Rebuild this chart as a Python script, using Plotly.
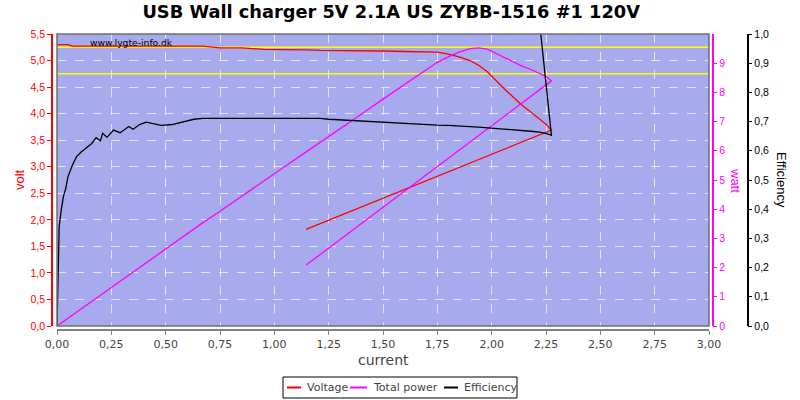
import plotly.graph_objects as go

# ---- data ----
current = [0.00, 0.01, 0.02, 0.03, 0.04, 0.05, 0.07, 0.09, 0.11, 0.14, 0.16, 0.18,
           0.20, 0.21, 0.23, 0.26, 0.29, 0.31, 0.33, 0.35, 0.38, 0.41, 0.45, 0.48,
           0.53, 0.58, 0.63, 0.67, 0.75, 0.85, 0.95, 1.05, 1.15, 1.21, 1.25, 1.32,
           1.40, 1.50, 1.60, 1.70, 1.75, 1.80, 1.85, 1.90, 1.94, 1.98, 2.02, 2.06,
           2.10, 2.14, 2.18, 2.22, 2.25, 2.275, 1.146]

voltage = [5.30, 5.30, 5.30, 5.30, 5.30, 5.30, 5.27, 5.27, 5.27, 5.27, 5.27, 5.27,
           5.27, 5.27, 5.27, 5.27, 5.27, 5.27, 5.27, 5.27, 5.27, 5.27, 5.27, 5.27,
           5.27, 5.27, 5.27, 5.27, 5.24, 5.24, 5.21, 5.21, 5.20, 5.19, 5.19, 5.19,
           5.18, 5.18, 5.17, 5.16, 5.16, 5.12, 5.07, 5.00, 4.91, 4.79, 4.62, 4.46,
           4.31, 4.16, 4.03, 3.90, 3.80, 3.69, 1.82]

power = [0.000, 0.053, 0.106, 0.159, 0.212, 0.265, 0.369, 0.474, 0.580, 0.738, 0.843, 0.949,
         1.054, 1.107, 1.212, 1.370, 1.528, 1.634, 1.739, 1.845, 2.003, 2.161, 2.372, 2.530,
         2.793, 3.057, 3.320, 3.531, 3.930, 4.454, 4.950, 5.471, 5.980, 6.280, 6.488, 6.851,
         7.252, 7.770, 8.272, 8.772, 9.030, 9.216, 9.380, 9.500, 9.525, 9.484, 9.332, 9.188,
         9.051, 8.902, 8.785, 8.658, 8.550, 8.395, 2.086]

efficiency = [0.000, 0.340, 0.400, 0.445, 0.470, 0.510, 0.550, 0.580, 0.595, 0.612, 0.625, 0.645,
              0.634, 0.660, 0.646, 0.671, 0.662, 0.672, 0.683, 0.674, 0.690, 0.698, 0.693, 0.687,
              0.690, 0.700, 0.708, 0.711, 0.711, 0.711, 0.711, 0.711, 0.711, 0.711, 0.708, 0.705,
              0.701, 0.698, 0.693, 0.690, 0.688, 0.687, 0.686, 0.683, 0.681, 0.679, 0.677, 0.674,
              0.672, 0.669, 0.667, 0.664, 0.660, 0.653, 8.650]

limit_lines = [5.25, 4.75]
x_ticks = [0, 0.25, 0.5, 0.75, 1.0, 1.25, 1.5, 1.75, 2.0, 2.25, 2.5, 2.75, 3.0]
watt_ticks = [0, 1, 2, 3, 4, 5, 6, 7, 8, 9]

series_names = ["Voltage", "Total power", "Efficiency"]
series_colors = ["#FF0000", "#FF00FF", "#000000"]

title = "USB Wall charger 5V 2.1A US ZYBB-1516 #1 120V"

# ---- geometry ----
W, H = 800, 400
ML, MR, MT, MB = 52, 10, 34, 70
PW = W - ML - MR
PH = H - MT - MB


def px(x):
    return (x - ML) / PW


def py(y):
    return (H - MB - y) / PH


FONT = "DejaVu Sans"
FONT2 = "Liberation Sans"
BG = "#A8AAEE"
GRID = "rgba(255,255,255,0.65)"

fig = go.Figure()
ys = [voltage, power, efficiency]
axes = ["y", "y2", "y3"]
for name, col, yv, ax in zip(series_names, series_colors, ys, axes):
    fig.add_trace(go.Scatter(x=current, y=yv, name=name, mode="lines",
                             line=dict(color=col, width=1.3), yaxis=ax,
                             showlegend=False))

for v in limit_lines:
    fig.add_shape(type="line", xref="x domain", yref="y", x0=0, x1=1, y0=v, y1=v,
                  line=dict(color="#FFFF00", width=1.6), layer="below")

fig.add_shape(type="rect", xref="x domain", yref="y domain", x0=0, x1=1, y0=0, y1=1,
              line=dict(color="#707070", width=1.5), layer="above")

# ---- custom legend box (matches the compact reference legend) ----
fig.add_shape(type="rect", xref="paper", yref="paper",
              x0=px(283), x1=px(517), y0=py(398), y1=py(377),
              line=dict(color="#000000", width=1), fillcolor="white", layer="above")
leg_line_x = [(287, 301), (350, 367), (444, 458)]
leg_text_x = [305, 371, 462]
for name, col, (a, b), tx in zip(series_names, series_colors, leg_line_x, leg_text_x):
    fig.add_shape(type="line", xref="paper", yref="paper",
                  x0=px(a), x1=px(b), y0=py(387.5), y1=py(387.5),
                  line=dict(color=col, width=2), layer="above")
    fig.add_annotation(text=name, x=px(tx), y=py(387.5), xref="paper", yref="paper",
                       xanchor="left", yanchor="middle", showarrow=False,
                       font=dict(family=FONT, size=11, color="#444444"))

fig.update_layout(
    width=W, height=H,
    margin=dict(l=ML, r=MR, t=MT, b=MB, autoexpand=False),
    paper_bgcolor="white",
    plot_bgcolor=BG,
    separators=",.",
    font=dict(family=FONT, size=11, color="#444444"),
    title=dict(text="<b>" + title + "</b>", x=0.489, xref="container", xanchor="center",
               y=1 - 12 / H, yref="container", yanchor="middle",
               font=dict(family=FONT, size=17.8, color="#000000")),
    showlegend=False,
    xaxis=dict(range=[0, 3], domain=[px(57), px(709)], anchor="free", position=0,
               tickvals=x_ticks, tickformat=".2f", automargin=False,
               showgrid=True, gridcolor=GRID, griddash="dash", gridwidth=1,
               showline=True, linecolor="#808080", linewidth=1.5,
               ticks="outside", tickcolor="#808080", ticklen=4,
               tickfont=dict(family=FONT, size=11, color="#444444"),
               zeroline=False),
    yaxis=dict(range=[0, 5.5], domain=[(H - MB - 326) / PH, 1], anchor="free", position=0,
               dtick=0.5, tick0=0, tickformat=".1f", automargin=False,
               showgrid=True, gridcolor=GRID, griddash="dash", gridwidth=1,
               showline=True, linecolor="#FF0000", linewidth=1.5,
               ticks="outside", tickcolor="#FF0000", ticklen=4,
               tickfont=dict(family=FONT2, size=10.5, color="#FF0000"),
               zeroline=False),
    yaxis2=dict(range=[0, 10], overlaying="y", side="right", anchor="free", position=px(712.5),
                tickvals=watt_ticks, showgrid=False, automargin=False,
                showline=True, linecolor="#FF00FF", linewidth=1.5,
                ticks="outside", tickcolor="#FF00FF", ticklen=4,
                tickfont=dict(family=FONT2, size=10.5, color="#FF00FF"),
                zeroline=False),
    yaxis3=dict(range=[0, 1], overlaying="y", side="right", anchor="free", position=px(747.5),
                dtick=0.1, tick0=0, tickformat=".1f", showgrid=False, automargin=False,
                showline=True, linecolor="#000000", linewidth=1.5,
                ticks="outside", tickcolor="#000000", ticklen=4,
                tickfont=dict(family=FONT2, size=10.5, color="#000000"),
                zeroline=False),
)

fig.add_annotation(text="volt", x=px(19), y=py(180), xref="paper", yref="paper",
                   xanchor="center", yanchor="middle",
                   showarrow=False, textangle=-90,
                   font=dict(family=FONT2, size=13, color="#FF0000"))
fig.add_annotation(text="watt", x=px(736), y=py(180), xref="paper", yref="paper",
                   xanchor="center", yanchor="middle",
                   showarrow=False, textangle=90,
                   font=dict(family=FONT2, size=13, color="#FF00FF"))
fig.add_annotation(text="Efficiency", x=px(782), y=py(180), xref="paper", yref="paper",
                   xanchor="center", yanchor="middle",
                   showarrow=False, textangle=90,
                   font=dict(family=FONT2, size=13, color="#000000"))
fig.add_annotation(text="current", x=px(383), y=py(360), xref="paper", yref="paper",
                   xanchor="center", yanchor="middle",
                   showarrow=False,
                   font=dict(family=FONT, size=14, color="#444444"))
fig.add_annotation(text="www.lygte-info.dk", x=px(88), y=py(43), xref="paper", yref="paper",
                   xanchor="left", yanchor="middle", showarrow=False,
                   font=dict(family=FONT, size=9.2, color="#000000"))

fig.write_html("out.html", config={"displayModeBar": False},
               post_script="document.body.style.margin='0';document.body.style.padding='0';")
